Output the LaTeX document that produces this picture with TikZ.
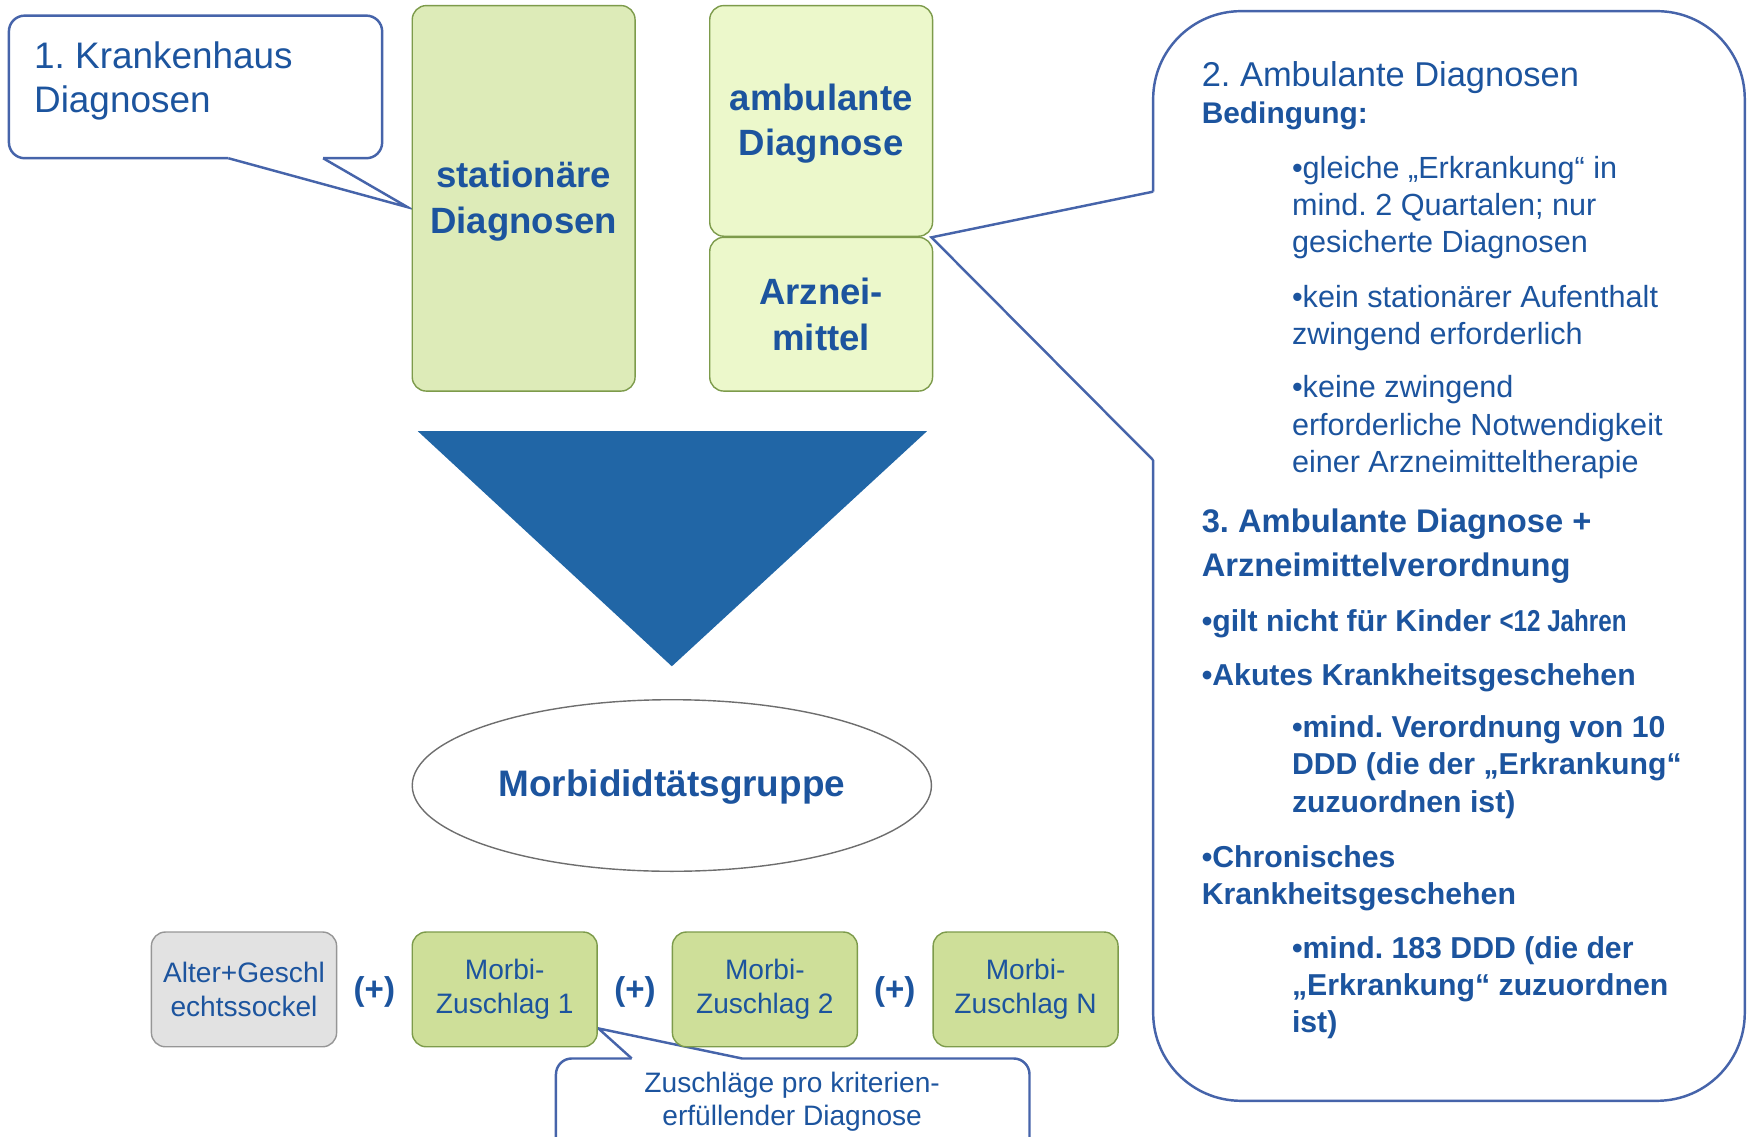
\documentclass[tikz,border=0pt]{standalone}
\usepackage{fontspec}
\setmainfont{Liberation Sans}
\newfontfamily\narrowfont[FakeStretch=0.8]{Liberation Sans}
\usetikzlibrary{shapes.geometric}
\frenchspacing

\definecolor{txtblue}{RGB}{28,84,158}
\definecolor{lineblue}{RGB}{70,100,170}
\definecolor{statfill}{RGB}{221,235,184}
\definecolor{ambfill}{RGB}{236,248,203}
\definecolor{boxline}{RGB}{125,155,75}
\definecolor{morbifill}{RGB}{206,223,153}
\definecolor{alterfill}{RGB}{226,226,226}
\definecolor{alterline}{RGB}{150,150,150}
\definecolor{trifill}{RGB}{33,102,166}
\definecolor{ellline}{RGB}{110,110,110}

\newcommand\pxl{0.01114cm}

\tikzset{
  callout/.style={draw=lineblue, line width=0.7pt},
  topbox/.style={draw=boxline, rounded corners=4pt, text=txtblue, align=center,
    minimum width=200*\pxl, font=\fontsize{10.4pt}{13pt}\selectfont\bfseries},
  lowbox/.style={draw=boxline, fill=morbifill, rounded corners=4pt, text=txtblue, align=center,
    minimum width=166*\pxl, minimum height=103*\pxl, font=\fontsize{8pt}{9.5pt}\selectfont},
  plussign/.style={text=txtblue, font=\fontsize{9.4pt}{11pt}\selectfont\bfseries},
  notetext/.style={text=txtblue, anchor=base west, align=left, inner sep=0pt},
  plaintext/.style={notetext, font=\fontsize{8.7pt}{10.6pt}\selectfont},
  boldtext/.style={notetext, font=\fontsize{8.6pt}{10.6pt}\selectfont\bfseries},
}

\begin{document}
\begin{tikzpicture}[x=\pxl, y=-\pxl]
\useasboundingbox (0,0) rectangle (1568,1020);
\clip (0,0) rectangle (1568,1020);

% callout tips
\coordinate (tip1) at (366,186);
\coordinate (tip2) at (836,213);
\coordinate (tip3) at (537,923);

% callouts
\draw[callout, rounded corners=4.5pt] (205,142) -- (8,142) -- (8,14) -- (343,14) -- (343,142) -- (290,142);
\draw[callout] (205,142) -- (tip1) -- (290,142);
\draw[callout, rounded corners=25pt] (1035,172) -- (1035,10) -- (1566,10) -- (1566,988) -- (1035,988) -- (1035,413);
\draw[callout] (1035,172) -- (tip2) -- (1035,413);
\draw[callout, rounded corners=4.5pt] (567,950) -- (499,950) -- (499,1060);
\draw[callout, rounded corners=4.5pt] (666,950) -- (924,950) -- (924,1060);
\draw[callout] (567,950) -- (tip3) -- (666,950);

% base = last line
\node[notetext, font=\fontsize{10.5pt}{12.4pt}\selectfont] (krank) at (30,101) {1. Krankenhaus\\Diagnosen};

% input boxes
\node[topbox, fill=statfill, minimum height=346*\pxl] (stat) at (470,178) {\rule{0pt}{9pt}stationäre\\Diagnosen};
\node[topbox, fill=ambfill, minimum height=207*\pxl] (amb) at (737,108.5) {\rule{0pt}{9pt}ambulante\\Diagnose};
\node[topbox, fill=ambfill, minimum height=138*\pxl] (arz) at (737,282) {Arznei-\\mittel};

\fill[trifill] (375,387) -- (832,387) -- (603,598) -- cycle;

\node[draw=ellline, ellipse, minimum width=466*\pxl, minimum height=154*\pxl, inner sep=0pt,
  text=txtblue, font=\fontsize{10.5pt}{12pt}\selectfont\bfseries] (group) at (603,705) {\rule{0pt}{8.5pt}Morbididtätsgruppe};

% Zuschlaege
\node[lowbox, draw=alterline, fill=alterfill] (alter) at (219,888) {Alter+Geschl\\echtssockel};
\foreach \i/\xx in {1/453, 2/686.5, N/920.5}
  \node[lowbox] (morbi\i) at (\xx,888) {Morbi-\\Zuschlag \i};
\foreach \xx [count=\k] in {336,570,803}
  \node[plussign] (plus\k) at (\xx,890) {(+)};

\node[text=txtblue, align=center, font=\fontsize{8pt}{9.5pt}\selectfont] (pro) at (711,989)
  {Zuschläge pro kriterien-\\erfüllender Diagnose};

% Bedingungen
\node[notetext, font=\fontsize{9.8pt}{12pt}\selectfont] (amb2) at (1078,78) {2. Ambulante Diagnosen};
\node[notetext, font=\fontsize{8.5pt}{10pt}\selectfont\bfseries] (beding) at (1078,111) {Bedingung:};
\node[plaintext] (cond1) at (1159,227) {•gleiche „Erkrankung“ in\\mind. 2 Quartalen; nur\\gesicherte Diagnosen};
\node[plaintext] (cond2) at (1159,309) {•kein stationärer Aufenthalt\\zwingend erforderlich};
\node[plaintext] (cond3) at (1159,424) {•keine zwingend\\erforderliche Notwendigkeit\\einer Arzneimitteltherapie};
\node[notetext, font=\fontsize{9.3pt}{12.4pt}\selectfont\bfseries] (amb3) at (1078,517) {3. Ambulante Diagnose +\\Arzneimittelverordnung};
\node[boldtext] (kinder) at (1078,567) {•gilt nicht für Kinder {\narrowfont <12 Jahren}};
\node[boldtext] (akut) at (1078,615) {•Akutes Krankheitsgeschehen};
\node[boldtext] (akut1) at (1159,729) {•mind. Verordnung von 10\\DDD (die der „Erkrankung“\\zuzuordnen ist)};
\node[boldtext] (chron) at (1078,812) {•Chronisches\\Krankheitsgeschehen};
\node[boldtext] (chron1) at (1159,927) {•mind. 183 DDD (die der\\„Erkrankung“ zuzuordnen\\ist)};
\end{tikzpicture}
\end{document}
